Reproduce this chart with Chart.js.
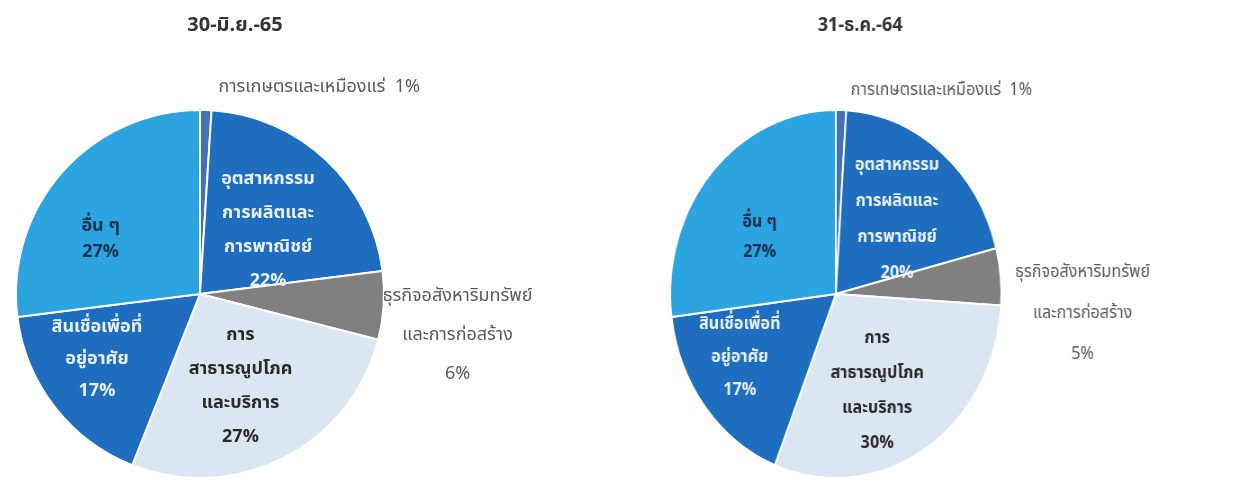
<!DOCTYPE html>
<html>
<head>
<meta charset="utf-8">
<script src="https://cdn.jsdelivr.net/npm/chart.js@4.4.0/dist/chart.umd.min.js"></script>
<style>
  html, body { margin: 0; padding: 0; background: #ffffff; }
  body { width: 1240px; height: 485px; position: relative; overflow: hidden; }
  #wrapL { position: absolute; left: 0; top: 0; width: 600px; height: 485px; }
  #wrapR { position: absolute; left: 600px; top: 0; width: 700px; height: 485px; transform: scaleX(0.9); transform-origin: 0 0; }
</style>
</head>
<body>
<div id="wrapL"><canvas id="pieL" width="600" height="485"></canvas></div>
<div id="wrapR"><canvas id="pieR" width="700" height="485"></canvas></div>
<script>
// ---- data ----
const categories = [
  'การเกษตรและเหมืองแร่',
  'อุตสาหกรรมการผลิตและการพาณิชย์',
  'ธุรกิจอสังหาริมทรัพย์และการก่อสร้าง',
  'การสาธารณูปโภคและบริการ',
  'สินเชื่อเพื่อที่อยู่อาศัย',
  'อื่น ๆ'
];
const labelLines = [
  ['การเกษตรและเหมืองแร่'],
  ['อุตสาหกรรม', 'การผลิตและ', 'การพาณิชย์'],
  ['ธุรกิจอสังหาริมทรัพย์', 'และการก่อสร้าง'],
  ['การ', 'สาธารณูปโภค', 'และบริการ'],
  ['สินเชื่อเพื่อที่', 'อยู่อาศัย'],
  ['อื่น ๆ']
];
const titles = ['30-มิ.ย.-65', '31-ธ.ค.-64'];
const valuesJun65 = [1, 22, 6, 27, 17, 27];
const valuesDec64 = [1, 20, 5, 30, 17, 27];

// ---- styles ----
const sliceColors = ['#4470b6', '#1e6dbf', '#808080', '#dce6f2', '#1e6dbf', '#2ca4e0'];
const textColors = ['#5a5a5a', '#eaf1fb', '#5a5a5a', '#2a2a2a', '#eaf1fb', '#17314d'];
const textBold = [false, true, false, true, true, true];
const FONT = "'Noto Sans Thai', 'Noto Sans', 'DejaVu Sans', sans-serif";

const labelPlugin = {
  id: 'sliceLabels',
  afterDatasetsDraw(chart) {
    const o = chart.options.plugins.sliceLabels;
    const ctx = chart.ctx;
    const meta = chart.getDatasetMeta(0);
    const vals = chart.data.datasets[0].data;
    ctx.save();
    // title
    const a0 = meta.data[0];
    ctx.font = 'bold 20px ' + FONT;
    ctx.fillStyle = '#333333';
    ctx.textAlign = 'center';
    ctx.textBaseline = 'middle';
    ctx.fillText(o.title, a0.x + o.titleDx, o.titleY);
    meta.data.forEach((arc, i) => {
      const r = arc.outerRadius;
      const [fx, fy] = o.offsets[i];
      const x = arc.x + fx * r;
      const y = arc.y + fy * r;
      ctx.fillStyle = textColors[i];
      ctx.font = (textBold[i] ? 'bold ' : '') + '18px ' + FONT;
      if (i === 0) {
        ctx.textAlign = 'left';
        ctx.fillText(labelLines[i][0] + '  ' + vals[i] + '%', x, y);
        return;
      }
      ctx.textAlign = 'center';
      const lines = labelLines[i].concat([vals[i] + '%']);
      const sp = o.spacing[i];
      const y0 = y - sp * (lines.length - 1) / 2;
      lines.forEach((t, k) => ctx.fillText(t, x, y0 + k * sp));
    });
    ctx.restore();
  }
};

function makePie(id, values, title, pad, opts) {
  return new Chart(document.getElementById(id), {
    type: 'pie',
    data: {
      labels: categories,
      datasets: [{
        data: values,
        backgroundColor: sliceColors,
        borderColor: '#ffffff',
        borderWidth: 2,
        hoverOffset: 0
      }]
    },
    options: {
      responsive: false,
      animation: false,
      layout: { padding: pad },
      plugins: {
        legend: { display: false },
        tooltip: { enabled: false },
        sliceLabels: Object.assign({ title: title }, opts)
      }
    },
    plugins: [labelPlugin]
  });
}

makePie('pieL', valuesJun65, titles[0],
  { left: 15, right: 215, top: 109, bottom: 6 },
  {
    titleDx: 35, titleY: 27,
    offsets: [[0.10, -1.12], [0.37, -0.34], [1.40, 0.23], [0.22, 0.51], [-0.56, 0.36], [-0.54, -0.29]],
    spacing: [0, 34, 39, 34, 32, 26]
  });

makePie('pieR', valuesDec64, titles[1],
  { left: 77, right: 253, top: 109, bottom: 6 },
  {
    titleDx: 27, titleY: 27,
    offsets: [[0.09, -1.10], [0.37, -0.40], [1.49, 0.11], [0.25, 0.53], [-0.58, 0.35], [-0.46, -0.30]],
    spacing: [0, 36, 41, 35, 33, 30]
  });
</script>
</body>
</html>
